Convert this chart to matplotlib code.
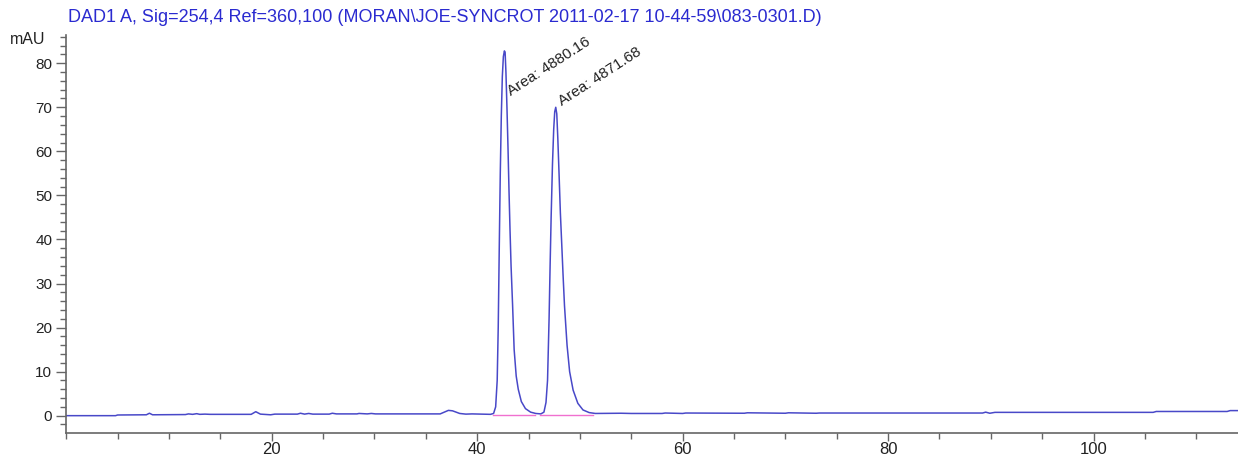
import matplotlib
matplotlib.use("Agg")
import matplotlib.pyplot as plt
from matplotlib.ticker import MultipleLocator

# retention time (min) and detector signal (mAU)
time_min = [
    0.0, 4.8, 5.0, 7.8, 8.1, 8.4, 11.6, 11.9, 12.3, 12.7, 13.0, 13.5, 14.0,
    18.0, 18.45, 18.9, 19.9, 20.3, 22.5, 22.8, 23.2, 23.6, 24.0, 25.6, 25.9,
    26.3, 28.3, 28.5, 29.3, 29.7, 30.1, 36.4, 37.2, 37.6, 38.3, 38.9, 39.5,
    41.3, 41.6, 41.8, 41.95, 42.05, 42.15, 42.25, 42.35, 42.45, 42.55, 42.65,
    42.72, 42.8, 42.9, 43.0, 43.1, 43.2, 43.3, 43.45, 43.6, 43.8, 44.0, 44.3,
    44.7, 45.2, 45.7, 46.2, 46.5, 46.7, 46.85, 47.0, 47.1, 47.2, 47.33, 47.45,
    47.55, 47.65, 47.75, 47.85, 47.97, 48.1, 48.25, 48.36, 48.5, 48.75, 49.0,
    49.34, 49.8, 50.3, 50.9, 51.5, 54.0, 55.0, 58.0, 58.3, 60.0, 60.3, 66.0,
    66.3, 70.0, 70.3, 73.0, 73.3, 80.0, 89.2, 89.5, 89.9, 90.4, 105.8, 106.1,
    113.0, 113.3, 114.5,
]
signal_mau = [
    0.0, 0.0, 0.15, 0.2, 0.55, 0.2, 0.25, 0.4, 0.3, 0.45, 0.3, 0.35, 0.3,
    0.3, 0.9, 0.35, 0.2, 0.35, 0.35, 0.55, 0.35, 0.5, 0.35, 0.35, 0.55,
    0.4, 0.4, 0.5, 0.4, 0.5, 0.4, 0.4, 1.2, 1.1, 0.5, 0.35, 0.4,
    0.3, 0.5, 2.0, 8.0, 20.0, 38.0, 55.0, 68.0, 77.0, 81.5, 82.8,
    82.5, 78.0, 70.0, 61.0, 51.0, 42.0, 34.0, 25.0, 15.0, 9.0, 6.0, 3.2,
    1.6, 0.8, 0.5, 0.4, 0.8, 3.0, 8.0, 22.0, 34.0, 45.0, 57.0, 65.0,
    69.0, 70.0, 68.5, 63.0, 55.0, 46.0, 38.0, 32.0, 25.0, 16.0, 10.0,
    5.8, 2.8, 1.3, 0.7, 0.5, 0.55, 0.5, 0.5, 0.6, 0.5, 0.6, 0.55,
    0.65, 0.55, 0.65, 0.55, 0.6, 0.6, 0.6, 0.8, 0.55, 0.75, 0.75, 0.95,
    0.95, 1.15, 1.15,
]

# integration baselines (start, end) for the two peaks
base_start = [41.5, 46.1]
base_end = [45.6, 51.3]
base_level = [0.2, 0.2]

# peak labels
peak_rt = [43.25, 48.25]
label_y = [72.5, 70.3]
peak_area = [4880.16, 4871.68]

title = ("DAD1 A, Sig=254,4 Ref=360,100 "
         "(MORAN\\JOE-SYNCROT 2011-02-17 10-44-59\\083-0301.D)")

plt.rcParams["font.family"] = ["Liberation Sans", "DejaVu Sans"]

fig = plt.figure(figsize=(12.38, 4.55), dpi=100)
ax = fig.add_axes([0.0535, 0.0484, 0.9465, 0.8746])

ax.plot(time_min, signal_mau, color="#4848c8", lw=1.1)
for x0, x1, y in zip(base_start, base_end, base_level):
    ax.plot([x0, x1], [y, y], color="#f070d0", lw=1.0)

for rt, y, area in zip(peak_rt, label_y, peak_area):
    ax.text(rt, y, f"Area: {area:.2f}", rotation=33, rotation_mode="anchor",
            ha="left", va="baseline", fontsize=11, color="#222222")

ax.set_xlim(0, 114.06)
ax.set_ylim(-3.93, 86.4)
ax.xaxis.set_major_locator(MultipleLocator(20))
ax.xaxis.set_minor_locator(MultipleLocator(5))
ax.yaxis.set_major_locator(MultipleLocator(10))
ax.yaxis.set_minor_locator(MultipleLocator(2))
ax.set_xticks([20, 40, 60, 80, 100])

for side in ("top", "right"):
    ax.spines[side].set_visible(False)
for side in ("left", "bottom"):
    ax.spines[side].set_color("#666666")
    ax.spines[side].set_linewidth(1.2)

ax.tick_params(which="major", length=7, width=1, color="#666666",
               labelsize=11, labelcolor="#222222", pad=3)
ax.tick_params(axis="x", which="major", length=6, labelsize=12, pad=0.5)
ax.tick_params(which="minor", length=4, width=1, color="#666666")

fig.text(0.008, 1 - 40 / 455, "mAU", fontsize=11.5, color="#222222",
         va="center", ha="left")
fig.text(68 / 1238, 1 - 18 / 455, title, fontsize=13, color="#2a2ad0",
         va="center", ha="left")

fig.savefig("out.png", dpi=100)
